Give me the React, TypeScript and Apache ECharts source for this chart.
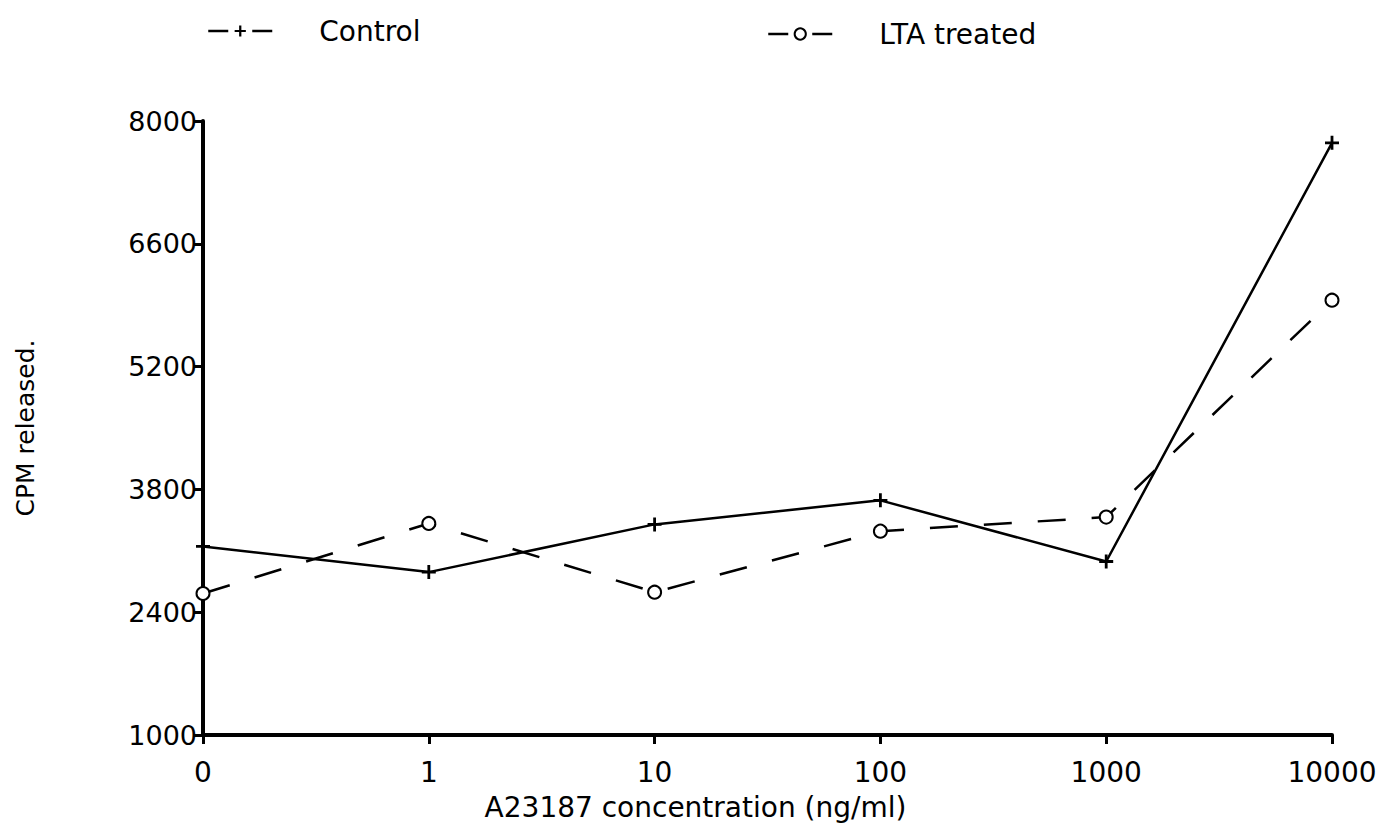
import React, { useEffect, useRef } from "react";
import * as echarts from "echarts";

const categories = ["0", "1", "10", "100", "1000", "10000"];
const controlValues = [3150, 2857, 3401, 3675, 2978, 7751];
const ltaValues = [2613, 3412, 2628, 3324, 3484, 5957];
const yTickValues = [1000, 2400, 3800, 5200, 6600, 8000];

const FONT = "DejaVu Sans";
const PLUS = "path://M4,0 H6 V4 H10 V6 H6 V10 H4 V6 H0 V4 H4 Z";

export default function App() {
  const ref = useRef<HTMLDivElement>(null);
  useEffect(() => {
    if (!ref.current) return;
    const chart = echarts.init(ref.current, undefined, { renderer: "svg" });
    const legendCommon = {
      top: 12,
      itemWidth: 64,
      itemHeight: 14,
      lineStyle: { type: [20, 24], width: 2.5, color: "#000" },
      textStyle: { fontFamily: FONT, fontSize: 28, color: "#000", padding: [0, 0, 0, 42] },
    };
    chart.setOption({
      animation: false,
      backgroundColor: "#fff",
      textStyle: { fontFamily: FONT, color: "#000" },
      legend: [
        { ...legendCommon, left: 202, data: ["Control"] },
        { ...legendCommon, left: 762, top: 15, data: ["LTA treated"] },
      ],
      grid: {
        left: 203,
        right: 59,
        top: 121,
        bottom: 104,
        containLabel: false,
        outerBoundsMode: "none",
      },
      xAxis: {
        type: "category",
        data: categories,
        boundaryGap: false,
        name: "A23187 concentration (ng/ml)",
        nameLocation: "middle",
        nameGap: 58,
        nameTextStyle: { fontFamily: FONT, fontSize: 28, color: "#000", padding: [0, 144, 0, 0] },
        axisLine: { lineStyle: { color: "#000", width: 4 } },
        axisTick: { show: true, inside: false, length: 9, lineStyle: { color: "#000", width: 3 } },
        axisLabel: { fontFamily: FONT, fontSize: 28, color: "#000", margin: 23 },
        splitLine: { show: false },
      },
      yAxis: {
        type: "value",
        min: 1000,
        max: 8000,
        name: "CPM released.",
        nameLocation: "middle",
        nameRotate: 90,
        nameGap: 165,
        nameTextStyle: { fontFamily: FONT, fontSize: 25, color: "#000" },
        axisLine: { show: true, lineStyle: { color: "#000", width: 4 } },
        axisTick: {
          show: true,
          inside: false,
          length: 10,
          lineStyle: { color: "#000", width: 3 },
          customValues: yTickValues,
        },
        axisLabel: {
          fontFamily: FONT,
          fontSize: 27,
          color: "#000",
          margin: 6,
          customValues: yTickValues,
          formatter: (v: number) => String(v),
        },
        splitLine: { show: false },
      },
      series: [
        {
          name: "Control",
          type: "line",
          data: controlValues,
          symbol: PLUS,
          symbolSize: 14,
          showSymbol: true,
          showAllSymbol: true,
          lineStyle: { color: "#000", width: 2.5, type: "solid" },
          itemStyle: { color: "#000", borderWidth: 0 },
        },
        {
          name: "LTA treated",
          type: "line",
          data: ltaValues,
          symbol: "emptyCircle",
          symbolSize: 13,
          showSymbol: true,
          showAllSymbol: true,
          lineStyle: { color: "#000", width: 2.5, type: [28, 26] },
          itemStyle: { color: "#000", borderColor: "#000", borderWidth: 2.5 },
        },
      ],
    });
    return () => chart.dispose();
  }, []);
  return (
    <div
      ref={ref}
      style={{ position: "absolute", left: 0, top: 0, width: 1391, height: 839 }}
    />
  );
}
